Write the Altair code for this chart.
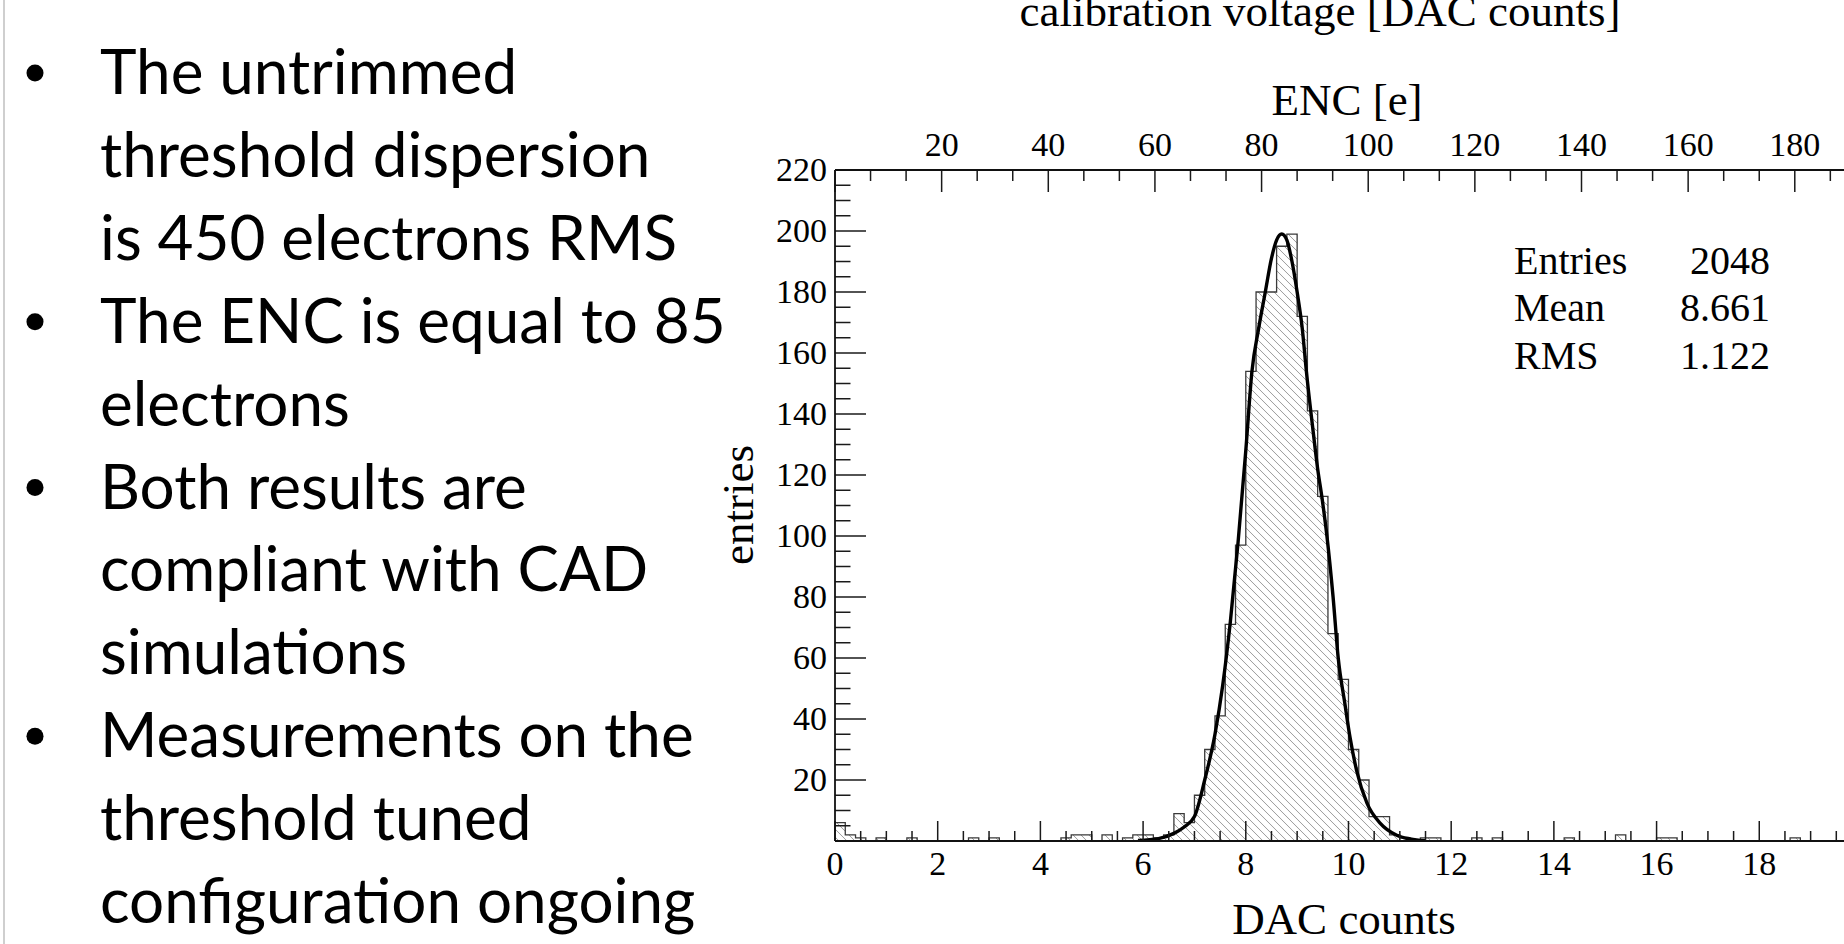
import altair as alt
import pandas as pd

# ---------------- values ----------------
# histogram: bin start (DAC counts, bins of 0.2) -> entries (bins not listed are empty)
bin_start = [0.0, 0.2, 0.4, 0.8, 1.4, 2.6, 3.0, 4.4, 4.6, 4.8, 5.2, 5.6, 5.8, 6.0, 6.2, 6.4,
             6.6, 6.8, 7.0, 7.2, 7.4, 7.6, 7.8, 8.0, 8.2, 8.4, 8.6, 8.8, 9.0, 9.2, 9.4, 9.6,
             9.8, 10.0, 10.2, 10.4, 10.6, 10.8, 11.0, 11.4, 11.6, 12.4, 12.8, 14.2, 15.2,
             16.0, 16.2, 18.6]
bin_count = [6, 2, 1, 1, 1, 1, 1, 1, 2, 2, 2, 1, 2, 2, 1, 2,
             9, 6, 15, 30, 41, 71, 97, 154, 180, 180, 195, 199, 172, 141, 113, 68,
             53, 30, 20, 8, 8, 2, 1, 1, 1, 1, 1, 1, 2,
             1, 1, 1]

# gaussian fit curve
fit_x = [5.9, 6.3, 6.6, 6.8, 7.0, 7.2, 7.4, 7.55, 7.7, 7.85, 8.0, 8.12, 8.25, 8.38, 8.5,
         8.6, 8.7, 8.8, 8.9, 9.0, 9.1, 9.18, 9.3, 9.4, 9.48, 9.58, 9.7, 9.8, 9.93, 10.03,
         10.16, 10.36, 10.62, 10.94, 11.2, 11.5]
fit_y = [0.2, 0.8, 2.5, 4.6, 8, 20, 35, 51, 72, 98, 128, 154, 168, 180, 191,
         197, 199, 197, 190, 180, 168, 154, 136, 122, 113, 100, 80, 60, 45, 34,
         23, 12.4, 5.8, 1.9, 0.7, 0.1]

stats_labels = ["Entries", "Mean", "RMS"]
stats_values = ["2048", "8.661", "1.122"]

x_tick_labels = [0, 2, 4, 6, 8, 10, 12, 14, 16, 18]
y_tick_labels = [20, 40, 60, 80, 100, 120, 140, 160, 180, 200, 220]
enc_tick_labels = [20, 40, 60, 80, 100, 120, 140, 160, 180]
ENC_PER_DAC = 9.63

x_title = "DAC counts"
y_title = "entries"
top_axis_title = "ENC [e]"
top_title = "calibration voltage [DAC counts]"

bullet_lines = ["The untrimmed", "threshold dispersion", "is 450 electrons RMS",
                "The ENC is equal to 85", "electrons", "Both results are",
                "compliant with CAD", "simulations", "Measurements on the",
                "threshold tuned", "configuration ongoing"]
bullet_first = [True, False, False, True, False, True, False, False, True, False, False]

# ---------------- layout / style ----------------
SERIF = "Liberation Serif"
SANS = "Lato"
PLOT_LEFT, PLOT_TOP, PLOT_W, PLOT_H = 835, 170, 1009, 671
TOTAL_H = 944
X_MAX, Y_MAX = 19.65, 220
PX_X = PLOT_W / X_MAX
PX_Y = PLOT_H / Y_MAX
BIN_W = 0.2
N_BINS = 98
TICK_C = "#1a1a1a"
FRAME_C = "#111111"
LABEL_FS = 34
TITLE_FS = 45

counts = {round(s / BIN_W): c for s, c in zip(bin_start, bin_count)}
hist = pd.DataFrame({
    "x": [round(i * BIN_W, 1) for i in range(N_BINS + 1)],
    "y": [counts.get(i, 0) for i in range(N_BINS)] + [0],
})
fit = pd.DataFrame({"x": fit_x, "y": fit_y})


def hatch_gradient(W, H, period=8.0, lw=1.15, color="#a2a2a2"):
    """Diagonal hatch (ROOT fill style) made from a striped linear gradient."""
    tot = W + H
    stops = [alt.GradientStop(color="white", offset=0)]
    e = 0.45 / tot
    c = -H + period / 2
    while c < W:
        t = (c + H) / tot
        a = t - lw / 2 / tot
        b = t + lw / 2 / tot
        if a - e > 0 and b + e < 1:
            for off, col in ((a - e, "white"), (a, color), (b, color), (b + e, "white")):
                stops.append(alt.GradientStop(color=col, offset=round(off, 7)))
        c += period
    stops.append(alt.GradientStop(color="white", offset=1))
    s = tot / (W * W + H * H)
    return alt.LinearGradient(gradient="linear", stops=stops,
                              x1=0, y1=1, x2=round(s * W, 7), y2=round(1 - s * H, 7))


grad = hatch_gradient(N_BINS * BIN_W * PX_X, max(bin_count) * PX_Y)

xs = alt.Scale(domain=[0, X_MAX], nice=False, zero=False)
ys = alt.Scale(domain=[0, Y_MAX], nice=False, zero=False)


def X(field):
    return alt.X(field, scale=xs, axis=None)


def Y(field):
    return alt.Y(field, scale=ys, axis=None)


def PY(field):
    return alt.Y(field, scale=None, axis=None)


one = pd.DataFrame({"a": [0]})

# ---- histogram, outline, fit ----
area = alt.Chart(hist).mark_area(interpolate="step-after", fill=grad, clip=True).encode(
    x=X("x:Q"), y=Y("y:Q"))
outline = alt.Chart(hist).mark_line(interpolate="step-after", color="#3a3a3a",
                                    strokeWidth=1.3, clip=True).encode(x=X("x:Q"), y=Y("y:Q"))
fit_line = alt.Chart(fit).mark_line(interpolate="monotone", color="black",
                                    strokeWidth=3.4, clip=True).encode(x=X("x:Q"), y=Y("y:Q"))

# ---- frame ----
frame_bottom = alt.Chart(one).mark_rule(color=FRAME_C, strokeWidth=1.8).encode(
    x=alt.value(0), x2=alt.value(PLOT_W), y=alt.value(PLOT_H))
frame_top = alt.Chart(one).mark_rule(color=FRAME_C, strokeWidth=1.8).encode(
    x=alt.value(0), x2=alt.value(PLOT_W), y=alt.value(0))
frame_left = alt.Chart(one).mark_rule(color=FRAME_C, strokeWidth=1.8).encode(
    x=alt.value(0), y=alt.value(0), y2=alt.value(PLOT_H))

# ---- inward ticks ----
bx_major = pd.DataFrame({"x": x_tick_labels})
bx_minor = pd.DataFrame({"x": [k * 0.5 for k in range(40) if k % 4 != 0 and k * 0.5 <= X_MAX]})
ly_major = pd.DataFrame({"y": [0] + y_tick_labels})
ly_minor = pd.DataFrame({"y": [k * 5 for k in range(1, 44) if k % 4 != 0]})
enc_major = pd.DataFrame({"enc": [0] + enc_tick_labels})
enc_minor = pd.DataFrame({"enc": [k * 20 / 3 for k in range(1, 29) if k % 3 != 0]})

bt_major = alt.Chart(bx_major).mark_rule(color=TICK_C, strokeWidth=1.5).encode(
    x=X("x:Q"), y=alt.value(PLOT_H), y2=alt.value(PLOT_H - 20))
bt_minor = alt.Chart(bx_minor).mark_rule(color=TICK_C, strokeWidth=1.5).encode(
    x=X("x:Q"), y=alt.value(PLOT_H), y2=alt.value(PLOT_H - 10))
lt_major = alt.Chart(ly_major).mark_rule(color=TICK_C, strokeWidth=1.5).encode(
    y=Y("y:Q"), x=alt.value(0), x2=alt.value(31))
lt_minor = alt.Chart(ly_minor).mark_rule(color=TICK_C, strokeWidth=1.5).encode(
    y=Y("y:Q"), x=alt.value(0), x2=alt.value(15.5))
conv = f"datum.enc / {ENC_PER_DAC}"
tt_major = alt.Chart(enc_major).transform_calculate(xd=conv).mark_rule(
    color=TICK_C, strokeWidth=1.5).encode(x=X("xd:Q"), y=alt.value(0), y2=alt.value(22))
tt_minor = alt.Chart(enc_minor).transform_calculate(xd=conv).mark_rule(
    color=TICK_C, strokeWidth=1.5).encode(x=X("xd:Q"), y=alt.value(0), y2=alt.value(11))

# ---- tick labels ----
lab_style = dict(font=SERIF, fontSize=LABEL_FS, color="black")
bl_lab = alt.Chart(bx_major).mark_text(align="center", baseline="alphabetic", **lab_style).encode(
    x=X("x:Q"), y=alt.value(PLOT_H + 34), text=alt.Text("x:Q", format="d"))
yl_lab = alt.Chart(pd.DataFrame({"y": y_tick_labels})).mark_text(
    align="right", baseline="middle", dy=1, **lab_style).encode(
    y=Y("y:Q"), x=alt.value(-8), text=alt.Text("y:Q", format="d"))
tl_lab = alt.Chart(pd.DataFrame({"enc": enc_tick_labels})).transform_calculate(xd=conv).mark_text(
    align="center", baseline="alphabetic", **lab_style).encode(
    x=X("xd:Q"), y=alt.value(-14), text=alt.Text("enc:Q", format="d"))

# ---- axis titles ----
ttl_style = dict(font=SERIF, fontSize=TITLE_FS, color="black", baseline="alphabetic")
t_x = alt.Chart(pd.DataFrame({"t": [x_title]})).mark_text(align="center", **ttl_style).encode(
    x=alt.value(1344 - PLOT_LEFT), y=alt.value(934 - PLOT_TOP), text="t:N")
t_top = alt.Chart(pd.DataFrame({"t": [top_axis_title]})).mark_text(align="center", **ttl_style).encode(
    x=alt.value(1347 - PLOT_LEFT), y=alt.value(115 - PLOT_TOP), text="t:N")
t_y = alt.Chart(pd.DataFrame({"t": [y_title]})).mark_text(align="center", angle=270, **ttl_style).encode(
    x=alt.value(753 - PLOT_LEFT), y=alt.value(505 - PLOT_TOP), text="t:N")
calib = alt.Chart(pd.DataFrame({"t": [top_title]})).mark_text(align="center", **ttl_style).encode(
    x=alt.value(1320 - PLOT_LEFT), y=alt.value(26 - PLOT_TOP), text="t:N")

# ---- stats box ----
st = pd.DataFrame({"lab": stats_labels, "val": stats_values, "i": [0, 1, 2]})
stats_l = alt.Chart(st).transform_calculate(py="103.5 + datum.i * 47.5").mark_text(
    align="left", baseline="alphabetic", font=SERIF, fontSize=40, color="black").encode(
    x=alt.value(1514 - PLOT_LEFT), y=PY("py:Q"), text="lab:N")
stats_v = alt.Chart(st).transform_calculate(py="103.5 + datum.i * 47.5").mark_text(
    align="right", baseline="alphabetic", font=SERIF, fontSize=40, color="black").encode(
    x=alt.value(1770 - PLOT_LEFT), y=PY("py:Q"), text="val:N")

# ---- slide bullet text ----
bl = pd.DataFrame({"line": bullet_lines, "i": list(range(len(bullet_lines))),
                   "first": bullet_first})
BASE0 = 94 - PLOT_TOP
PITCH = 82.9
bullets = alt.Chart(bl).transform_calculate(
    py=f"{BASE0} + datum.i * {PITCH}"
).mark_text(align="left", baseline="alphabetic", font=SANS, fontSize=62, color="black").encode(
    x=alt.value(100 - PLOT_LEFT), y=PY("py:Q"), text="line:N")
dots = alt.Chart(bl).transform_filter("datum.first").transform_calculate(
    py=f"{BASE0 - 21} + datum.i * {PITCH}"
).mark_circle(color="black", opacity=1, size=290).encode(
    x=alt.value(35 - PLOT_LEFT), y=PY("py:Q"))

edge = alt.Chart(one).mark_rule(color="#cfcfcf", strokeWidth=2).encode(
    x=alt.value(4 - PLOT_LEFT), y=alt.value(-PLOT_TOP), y2=alt.value(TOTAL_H - PLOT_TOP))

chart = alt.layer(
    edge, area, outline, fit_line,
    bt_major, bt_minor, lt_major, lt_minor, tt_major, tt_minor,
    frame_bottom, frame_top, frame_left,
    bl_lab, yl_lab, tl_lab, t_x, t_top, t_y, calib,
    stats_l, stats_v, bullets, dots,
).properties(
    width=PLOT_W, height=PLOT_H,
    padding={"left": PLOT_LEFT, "top": PLOT_TOP, "right": 0,
             "bottom": TOTAL_H - PLOT_TOP - PLOT_H},
    autosize=alt.AutoSizeParams(type="none"),
    background="white",
).configure_view(stroke=None)

chart.save("out.html", embed_options={"renderer": "svg", "actions": False})
